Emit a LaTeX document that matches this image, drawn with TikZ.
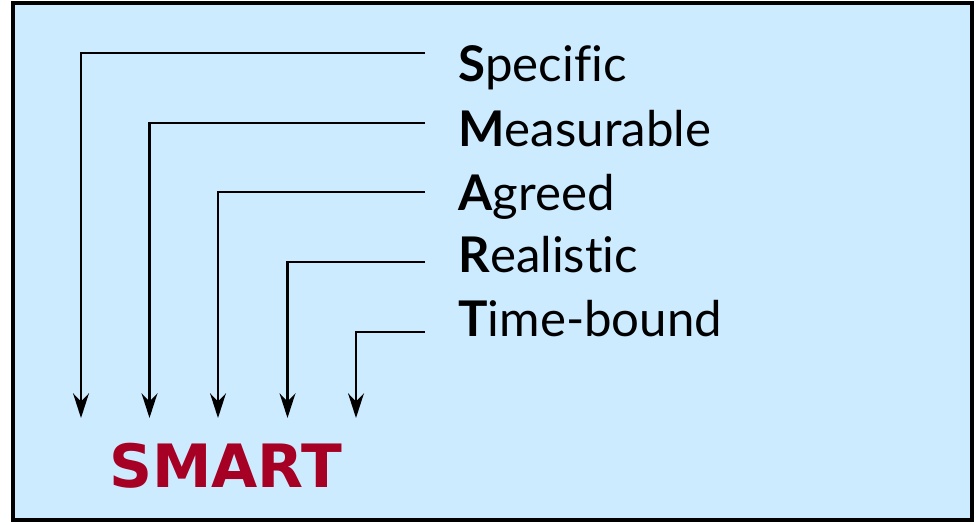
\documentclass[tikz,border=0pt]{standalone}
\usepackage{fontspec}
\setmainfont{Lato}[Ligatures={NoCommon,NoRare,NoDiscretionary,NoContextual}]
\newfontfamily\smartfont{DejaVu Sans}
\usetikzlibrary{arrows.meta}
\definecolor{boxblue}{RGB}{204,235,255}
\definecolor{smartred}{RGB}{166,0,36}

\begin{document}
\begin{tikzpicture}[x=0.02cm, y=-0.02cm,
  word/.style={anchor=base west, inner sep=0pt, font=\fontsize{28}{28}\selectfont},
  link/.style={line width=1.3pt, -{Stealth[length=14pt, width=9pt, inset=4.5pt]}}]
\useasboundingbox (0,0) rectangle (980,524);
\draw[line width=1.8pt, fill=boxblue] (13,3) rectangle (972,520);

\node[word] (spec) at (458,81.7) {\textbf{S}pecific};
\node[word] (meas) at (458,146.7) {\textbf{M}easurable};
\node[word] (agre) at (458,210) {\textbf{A}greed};
\node[word] (real) at (458,272.7) {\textbf{R}ealistic};
\node[word] (time) at (458,336.7) {\textbf{T}ime-bound};

\coordinate (s1) at (425,52.7);
\coordinate (s2) at (425,122.7);
\coordinate (s3) at (425,192.3);
\coordinate (s4) at (425,261.7);
\coordinate (s5) at (425,331.7);

\coordinate (e1) at (81,418);
\coordinate (e2) at (149.5,418);
\coordinate (e3) at (218,418);
\coordinate (e4) at (287.5,418);
\coordinate (e5) at (356,418);

\draw[link] (s1) -| (e1);
\draw[link] (s2) -| (e2);
\draw[link] (s3) -| (e3);
\draw[link] (s4) -| (e4);
\draw[link] (s5) -| (e5);

\node[anchor=base, inner sep=0pt, text=smartred, font=\smartfont\bfseries\fontsize{34}{34}\selectfont] (smart) at (225.5,487) {SMART};
\end{tikzpicture}
\end{document}
